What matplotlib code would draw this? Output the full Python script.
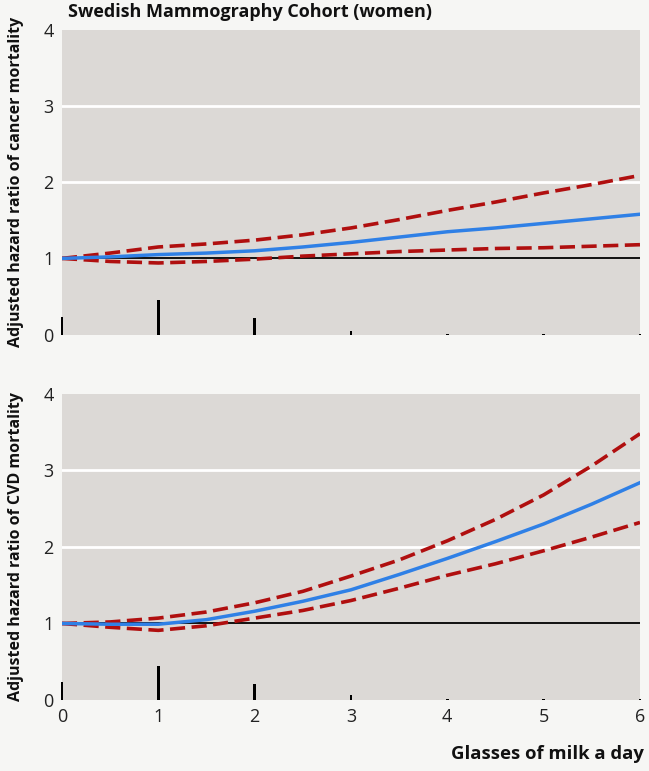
import matplotlib
matplotlib.use("Agg")
import matplotlib.pyplot as plt

# glasses of milk a day
x = [0, 0.5, 1, 1.5, 2, 2.5, 3, 3.5, 4, 4.5, 5, 5.5, 6]

# cancer mortality (top panel)
cancer_hr = [1.0, 1.02, 1.05, 1.07, 1.10, 1.15, 1.21, 1.28, 1.35, 1.40, 1.46, 1.52, 1.58]
cancer_upper = [1.0, 1.07, 1.15, 1.19, 1.24, 1.31, 1.40, 1.51, 1.63, 1.74, 1.86, 1.97, 2.09]
cancer_lower = [1.0, 0.96, 0.94, 0.96, 0.99, 1.03, 1.06, 1.09, 1.11, 1.13, 1.14, 1.16, 1.18]

# CVD mortality (bottom panel)
cvd_hr = [1.0, 0.99, 0.99, 1.05, 1.16, 1.29, 1.44, 1.64, 1.85, 2.07, 2.30, 2.56, 2.84]
cvd_upper = [1.0, 1.02, 1.07, 1.15, 1.27, 1.42, 1.62, 1.83, 2.08, 2.36, 2.68, 3.06, 3.48]
cvd_lower = [1.0, 0.95, 0.91, 0.97, 1.07, 1.17, 1.30, 1.46, 1.63, 1.78, 1.95, 2.13, 2.32]

# distribution of intake (rug bars)
bar_x = [0, 1, 2, 3, 4, 5, 6]
cancer_bars = [0.23, 0.45, 0.22, 0.05, 0.01, 0.01, 0.01]
cvd_bars = [0.24, 0.44, 0.21, 0.06, 0.01, 0.01, 0.01]

bg = '#f6f6f4'
panel = '#dcd9d6'
blue = '#2f80e6'
red = '#b00f0f'

plt.rcParams['font.family'] = ['Open Sans', 'DejaVu Sans']

fig = plt.figure(figsize=(6.49, 7.71), dpi=100, facecolor=bg)
ax1 = fig.add_axes([0.0955, 0.5661, 0.8906, 0.395])
ax2 = fig.add_axes([0.0955, 0.0921, 0.8906, 0.397])


def draw_panel(ax, hr, up, lo, bars, ylabel, show_x):
    ax.set_facecolor(panel)
    for s in ax.spines.values():
        s.set_visible(False)
    ax.set_xlim(0, 6)
    ax.set_ylim(0, 4)
    for g in [2, 3]:
        ax.axhline(g, color='white', lw=2, zorder=1)
    ax.axhline(1, color='black', lw=1.3, zorder=2)
    ax.bar(bar_x, bars, width=0.03, color='black', zorder=3, clip_on=False)
    ax.plot(x, up, color=red, lw=2.6, dashes=(4.2, 1.8), zorder=4)
    ax.plot(x, lo, color=red, lw=2.6, dashes=(4.2, 1.8), zorder=4)
    ax.plot(x, hr, color=blue, lw=2.5, zorder=5)
    ax.set_yticks([0, 1, 2, 3, 4])
    ax.tick_params(length=0, labelsize=13, colors='#222222', pad=6)
    ax.set_xticks([0, 1, 2, 3, 4, 5, 6])
    if not show_x:
        ax.set_xticklabels([])
    ax.set_ylabel(ylabel, fontsize=11.5, fontweight='bold', color='#111111', labelpad=14)


draw_panel(ax1, cancer_hr, cancer_upper, cancer_lower, cancer_bars,
           'Adjusted hazard ratio of cancer mortality', False)
draw_panel(ax2, cvd_hr, cvd_upper, cvd_lower, cvd_bars,
           'Adjusted hazard ratio of CVD mortality', True)

fig.text(0.105, 0.984, 'Swedish Mammography Cohort (women)', fontsize=13,
         fontweight='bold', color='#111111', va='center', ha='left')
fig.text(0.992, 0.022, 'Glasses of milk a day', fontsize=13.3,
         fontweight='bold', color='#111111', va='center', ha='right')

fig.savefig('out.png', dpi=100, facecolor=bg)
